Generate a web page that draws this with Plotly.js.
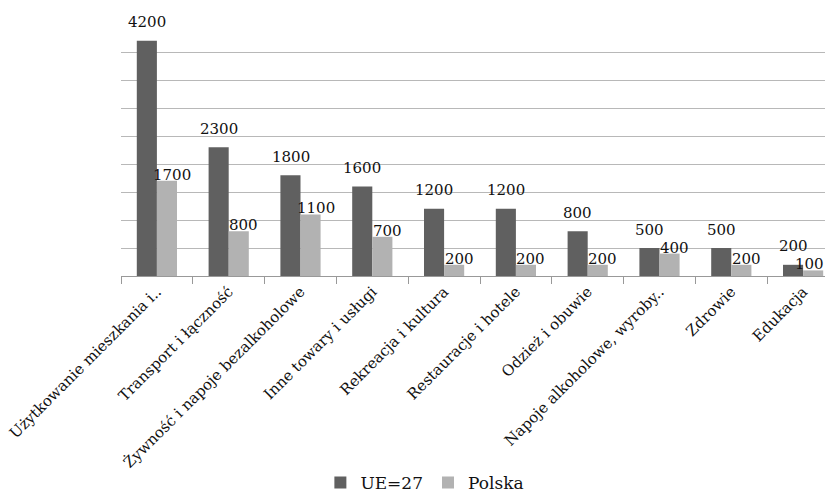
<!DOCTYPE html>
<html>
<head>
<meta charset="utf-8">
<script src="https://cdn.plot.ly/plotly-3.0.1.min.js"></script>
<style>
html,body{margin:0;padding:0;overflow:hidden;background:#fff;}
#chart{width:825px;height:501px;}
</style>
</head>
<body>
<div id="chart"></div>
<script>
var categories = [
  "Użytkowanie mieszkania i..",
  "Transport i łączność",
  "Żywność i napoje bezalkoholowe",
  "Inne towary i usługi",
  "Rekreacja i kultura",
  "Restauracje i hotele",
  "Odzież i obuwie",
  "Napoje alkoholowe, wyroby..",
  "Zdrowie",
  "Edukacja"
];
var ueValues = [4200, 2300, 1800, 1600, 1200, 1200, 800, 500, 500, 200];
var plValues = [1700, 800, 1100, 700, 200, 200, 200, 400, 200, 100];
var seriesNames = ["UE=27", "Polska"];

var FONT = "DejaVu Serif";
var UE_COLOR = "#606060";
var PL_COLOR = "#b2b2b2";

var traces = [
  {type: "bar", name: seriesNames[0], x: categories, y: ueValues,
   marker: {color: UE_COLOR}, hoverinfo: "skip"},
  {type: "bar", name: seriesNames[1], x: categories, y: plValues,
   marker: {color: PL_COLOR}, hoverinfo: "skip"}
];

var annotations = [];
categories.forEach(function (c, i) {
  var last = i === categories.length - 1;
  annotations.push({x: c, y: ueValues[i], text: String(ueValues[i]),
    showarrow: false, xshift: -10, yshift: 18.5, yanchor: "middle", xanchor: "center",
    font: {family: FONT, size: 15, color: "#111"}});
  annotations.push({x: c, y: plValues[i], text: String(plValues[i]),
    showarrow: false, xshift: last ? 6 : 15, yshift: 6, yanchor: "middle", xanchor: "center",
    font: {family: FONT, size: 15, color: "#111"}});
});

var layout = {
  width: 825, height: 501,
  margin: {l: 121, r: 0, t: 24, b: 225},
  paper_bgcolor: "#fff", plot_bgcolor: "#fff",
  barmode: "group", bargap: 0.44, bargroupgap: 0,
  font: {family: FONT, color: "#111"},
  showlegend: true,
  legend: {orientation: "h", xref: "container", yref: "container",
    x: 0.515, xanchor: "center", y: -0.03, yanchor: "bottom",
    font: {family: FONT, size: 17, color: "#111"}, itemwidth: 30, tracegroupgap: 0},
  xaxis: {type: "category", range: [-0.5, 9.305], tickangle: -45,
    ticks: "outside", tickson: "boundaries", ticklen: 7, tickcolor: "#999",
    showline: true, linecolor: "#999", linewidth: 1, showgrid: false,
    tickfont: {family: FONT, size: 15, color: "#111"}, fixedrange: true},
  yaxis: {range: [0, 4500], dtick: 500, showticklabels: false, ticks: "",
    showgrid: true, gridcolor: "#b8b8b8", gridwidth: 1, zeroline: false,
    showline: false, fixedrange: true},
  annotations: annotations
};

Plotly.newPlot("chart", traces, layout, {displayModeBar: false, staticPlot: true});
</script>
</body>
</html>
